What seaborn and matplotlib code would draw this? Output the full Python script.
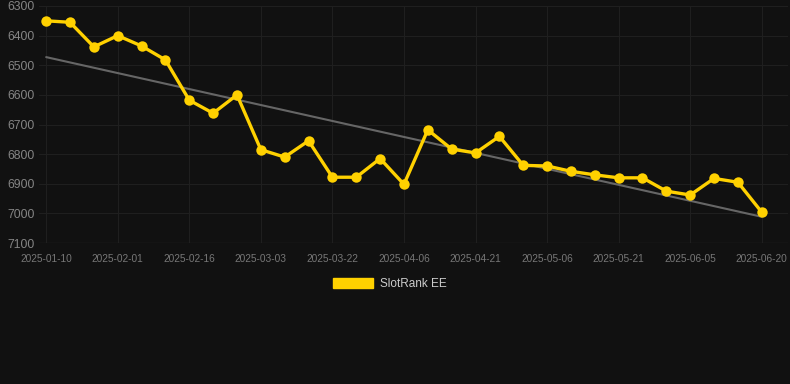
import numpy as np
import pandas as pd
import seaborn as sns
import matplotlib.pyplot as plt
from matplotlib.patches import Patch

# dates on a categorical axis, every third one labelled
dates = ["2025-01-10", "2025-01-17", "2025-01-24", "2025-02-01", "2025-02-06", "2025-02-11",
         "2025-02-16", "2025-02-21", "2025-02-26", "2025-03-03", "2025-03-09", "2025-03-15",
         "2025-03-22", "2025-03-27", "2025-04-01", "2025-04-06", "2025-04-11", "2025-04-16",
         "2025-04-21", "2025-04-26", "2025-05-01", "2025-05-06", "2025-05-11", "2025-05-16",
         "2025-05-21", "2025-05-26", "2025-05-31", "2025-06-05", "2025-06-10", "2025-06-15",
         "2025-06-20"]
rank = [6350, 6355, 6438, 6400, 6435, 6482, 6618, 6662, 6600, 6785, 6810, 6755, 6878, 6878,
        6815, 6902, 6718, 6783, 6796, 6740, 6838, 6840, 6858, 6870, 6880, 6880, 6925, 6938,
        6882, 6895, 6996]
y_ticks = [6300, 6400, 6500, 6600, 6700, 6800, 6900, 7000, 7100]
series_name = "SlotRank EE"

BG = "#111111"
YELLOW = "#FFD100"

sns.set_style("dark", {"axes.facecolor": BG, "figure.facecolor": BG,
                       "grid.color": "#1f1f1f", "axes.grid": True})
plt.rcParams['font.family'] = ['Liberation Sans', 'DejaVu Sans']

df = pd.DataFrame({"date": dates, "rank": rank, "idx": np.arange(len(dates))})

fig = plt.figure(figsize=(7.9, 3.84), dpi=100)
ax = fig.add_axes([39 / 790, 1 - 243 / 384, 749 / 790, 237 / 384])

# trend line
sns.regplot(data=df, x="idx", y="rank", scatter=False, ci=None, truncate=True,
            color="#666666", line_kws={"linewidth": 1.5}, ax=ax)
sns.lineplot(data=df, x="idx", y="rank", color=YELLOW, linewidth=2.4,
             marker="o", markersize=7.5, markeredgewidth=0, ax=ax)

ax.set_xlim(-0.3, 31.1)
ax.set_ylim(7100, 6300)
ax.set_yticks(y_ticks)
ax.set_xticks(df["idx"][::3])
ax.set_xticklabels(df["date"][::3])
ax.tick_params(axis="x", colors="#777777", labelsize=7.3, length=0, pad=8)
ax.tick_params(axis="y", colors="#858585", labelsize=8.8, length=0, pad=3)
ax.grid(True, color="#1f1f1f", linewidth=0.8)
ax.axhline(7100, color="#2c2c2c", linewidth=0.9)
ax.set_xlabel("")
ax.set_ylabel("")
for s in ax.spines.values():
    s.set_visible(False)

fig.legend(handles=[Patch(color=YELLOW, label=series_name)], loc="center",
           bbox_to_anchor=(390 / 790, 1 - 284 / 384), frameon=False,
           fontsize=8.5, labelcolor="#cccccc", handlelength=3.4, handleheight=1.0,
           handletextpad=0.6)

fig.savefig("out.png", dpi=100, facecolor=BG)
